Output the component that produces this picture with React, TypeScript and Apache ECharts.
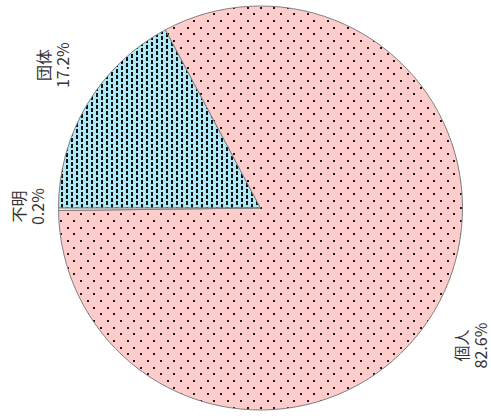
import React, { useEffect, useRef } from "react";
import * as echarts from "echarts";

const categories = ["団体", "個人", "不明"];
const percents = [17.2, 82.6, 0.2];
const baseColors = ["#aee9f8", "#ffcccc", "#e8e8e8"];
// per-label nudges (px) relative to an anchor on the slice's mid-angle
const labelNudges: [number, number][] = [
  [9, -13],
  [-7, 9],
  [19, -3],
];

const CX = 260.5;
const CY = 208;
const R = 202;
const START = 180;

function makePinkPattern(): HTMLCanvasElement {
  const c = document.createElement("canvas");
  c.width = 40;
  c.height = 40;
  const g = c.getContext("2d")!;
  g.fillStyle = "#ffcccc";
  g.fillRect(0, 0, 40, 40);
  g.fillStyle = "#1a1a1a";
  const p = 40 / 3;
  for (let i = 0; i < 3; i++) {
    for (let j = 0; j < 3; j++) {
      g.fillRect(Math.round(i * p), Math.round(j * p), 2, 2);
      g.fillRect(Math.round(i * p + p / 2), Math.round(j * p + p / 2), 2, 2);
    }
  }
  return c;
}

function makeCyanPattern(): HTMLCanvasElement {
  const c = document.createElement("canvas");
  c.width = 10;
  c.height = 12;
  const g = c.getContext("2d")!;
  g.fillStyle = "#aee9f8";
  g.fillRect(0, 0, 10, 12);
  g.fillStyle = "#111111";
  g.fillRect(1, 0, 2, 4);
  g.fillRect(1, 6, 2, 4);
  g.fillRect(6, 3, 2, 4);
  g.fillRect(6, 9, 2, 4);
  g.fillRect(6, -3, 2, 4);
  return c;
}

export default function App() {
  const ref = useRef<HTMLDivElement>(null);
  useEffect(() => {
    document.body.style.margin = "0";
    if (!ref.current) return;
    const chart = echarts.init(ref.current, undefined, { renderer: "svg" });
    const total = percents.reduce((a, b) => a + b, 0);
    const mids: number[] = [];
    let cum = 0;
    percents.forEach((v) => {
      mids.push(START - ((cum + v / 2) / total) * 360);
      cum += v;
    });
    const patterns: any[] = [
      { image: makeCyanPattern(), repeat: "repeat" },
      { image: makePinkPattern(), repeat: "repeat" },
      baseColors[2],
    ];
    chart.setOption({
      animation: false,
      series: [
        {
          type: "pie",
          center: [CX, CY],
          radius: [0, R],
          startAngle: START,
          clockwise: true,
          avoidLabelOverlap: false,
          silent: true,
          data: categories.map((name, i) => ({
            name,
            value: percents[i],
            itemStyle: { color: patterns[i] },
          })),
          itemStyle: { borderColor: "#808080", borderWidth: 1 },
          label: {
            show: true,
            position: "outside",
            rotate: 90,
            formatter: (p: any) => `${p.name}\n${p.value.toFixed(1)}%`,
            fontFamily: "'Noto Sans CJK JP', 'Noto Sans', sans-serif",
            fontSize: 16,
            lineHeight: 19,
            color: "#333333",
            align: "center",
          },
          labelLine: { show: false },
          labelLayout: (params: any) => {
            const i = params.dataIndex;
            const a = (mids[i] * Math.PI) / 180;
            const d = R * 1.25;
            return {
              x: CX + d * Math.cos(a) + labelNudges[i][0],
              y: CY - d * Math.sin(a) + labelNudges[i][1],
              align: "center",
              verticalAlign: "middle",
            };
          },
          emphasis: { disabled: true },
        },
      ],
    });
    return () => chart.dispose();
  }, []);
  return <div ref={ref} style={{ width: 491, height: 416 }} />;
}
